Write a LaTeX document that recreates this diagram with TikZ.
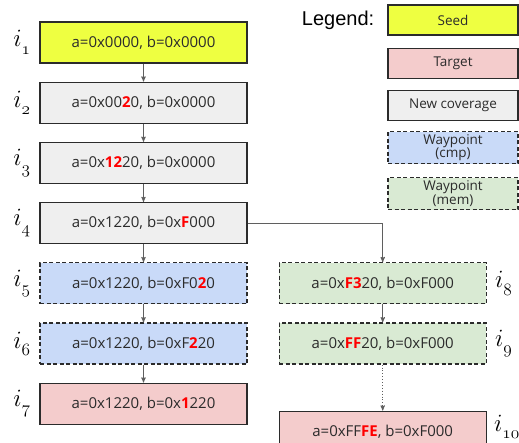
\documentclass[tikz,border=0pt]{standalone}
\usepackage{fontspec}
\setmainfont{Open Sans}
\newfontfamily\legendfont{Liberation Sans}
\usetikzlibrary{arrows,positioning}
\definecolor{seedcol}{HTML}{EEFF41}
\definecolor{targetcol}{HTML}{F4CCCC}
\definecolor{covcol}{HTML}{EFEFEF}
\definecolor{cmpcol}{HTML}{C9DAF8}
\definecolor{memcol}{HTML}{D9EAD3}
\definecolor{boxline}{HTML}{2B2B2B}
\definecolor{arrowgray}{HTML}{5F5F5F}
\newcommand{\chg}[1]{\textcolor{red}{\textbf{#1}}}
% italic i with an old-style subscript
\newcommand{\iter}[1]{\usefont{OML}{cmm}{m}{it}i\raisebox{-0.3em}{\fontsize{16}{16}\usefont{OML}{cmm}{m}{it}#1}}
\tikzset{
%Define standard arrow tip
>=stealth',
%Define styles for the input boxes
input/.style={draw=boxline, line width=1.2pt, text=boxline, minimum width=207pt, minimum height=41pt, inner sep=0pt, font=\fontsize{15}{18}\selectfont},
seed/.style={input, fill=seedcol},
target/.style={input, fill=targetcol},
newcov/.style={input, fill=covcol},
waypoint/.style={dash pattern=on 4pt off 2.5pt},
waycmp/.style={input, fill=cmpcol, waypoint},
waymem/.style={input, fill=memcol, waypoint},
%Define styles for the legend
key/.style={draw=boxline, line width=1.2pt, text=boxline, minimum width=130pt, minimum height=30pt, inner sep=1pt, align=center, font=\fontsize{13.5}{13.5}\selectfont},
%Define style for the input labels
iterlabel/.style={inner sep=0pt, font=\fontsize{24}{24}\selectfont},
flow/.style={->, draw=arrowgray, line width=0.9pt},
}
\begin{document}
\begin{tikzpicture}[x=1pt, y=-1pt, node distance=18pt]
\useasboundingbox (0,0) rectangle (519,443);
% Draw the main chain of inputs
\node[seed] (i1) at (143.5,42.5) {a=0x0000, b=0x0000};
\node[newcov, below=of i1] (i2) {a=0x00\chg{2}0, b=0x0000};
\node[newcov, below=of i2] (i3) {a=0x\chg{12}20, b=0x0000};
\node[newcov, below=of i3] (i4) {a=0x1220, b=0x\chg{F}000};
\node[waycmp, below=of i4] (i5) {a=0x1220, b=0xF0\chg{2}0};
\node[waycmp, below=of i5] (i6) {a=0x1220, b=0xF\chg{2}20};
\node[target, below=of i6] (i7) {a=0x1220, b=0x\chg{1}220};
% Draw the side chain
\node[waymem, right=31pt of i5] (i8) {a=0x\chg{F3}20, b=0xF000};
\node[waymem, below=of i8] (i9) {a=0x\chg{FF}20, b=0xF000};
\node[target, below=46pt of i9] (i10) {a=0xFF\chg{FE}, b=0xF000};
% Label the inputs
\foreach \n in {1,...,7}
  \node[iterlabel, left=9pt of i\n] (l\n) {\iter{\n}};
\foreach \n in {8,9}
  \node[iterlabel, right=8pt of i\n] (l\n) {\iter{\n}};
\node[iterlabel, right=7pt of i10, yshift=5pt] (l10) {\iter{10}};
% Connect the inputs
\foreach \a/\b in {i1/i2,i2/i3,i3/i4,i4/i5,i5/i6,i6/i7,i8/i9}
  \draw[flow] (\a) -- (\b);
\draw[flow] (i4) -| (i8);
\draw[flow, dotted] (i9) -- (i10);
% Draw the legend
\node[key, fill=seedcol] (kseed) at (453,20) {Seed};
\node[key, fill=targetcol, below=12pt of kseed] (ktarget) {Target};
\node[key, fill=covcol, below=11pt of ktarget] (kcov) {New coverage};
\node[key, fill=cmpcol, waypoint, minimum height=32pt, below=10pt of kcov] (kcmp) {Waypoint\\(cmp)};
\node[key, fill=memcol, waypoint, minimum height=32pt, below=13pt of kcmp] (kmem) {Waypoint\\(mem)};
\node[inner sep=0pt, font=\legendfont\fontsize{20}{22}\selectfont, left=13pt of kseed] (legend) {Legend:};
\end{tikzpicture}
\end{document}
